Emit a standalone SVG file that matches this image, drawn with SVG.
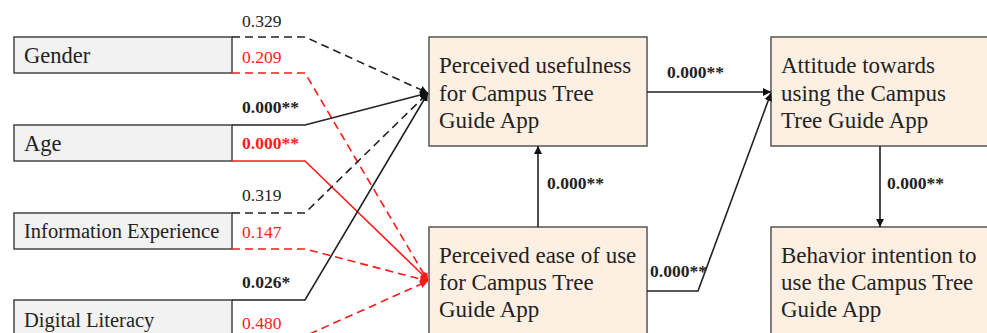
<svg xmlns="http://www.w3.org/2000/svg" width="987" height="333" viewBox="0 0 987 333">
<style>
.lb{fill:#f2f2f2;stroke:#444;stroke-width:1.5}
.mb{fill:#fdf0e3;stroke:#555;stroke-width:1.5}
.t{font-family:"Liberation Serif","Times New Roman",serif;fill:#222}
.big{font-size:23px}
.mid{font-size:22.5px}
.sm{font-size:20.5px}
.lab{font-family:"Liberation Serif","Times New Roman",serif;font-size:17.5px}
.b{font-weight:bold}
.k{fill:#222}
.r{fill:#ff1a1a}
.ck{fill:none;stroke:#222;stroke-width:1.6}
.cr{fill:none;stroke:#ff1a1a;stroke-width:1.6}
.d{stroke-dasharray:8 5}
</style>
<defs>
<marker id="ak" viewBox="0 0 10 10" refX="10" refY="5" markerWidth="8" markerHeight="8" markerUnits="userSpaceOnUse" orient="auto"><path d="M0,0 L10,5 L0,10 z" fill="#111"/></marker>
<marker id="ar" viewBox="0 0 10 10" refX="10" refY="5" markerWidth="8" markerHeight="8" markerUnits="userSpaceOnUse" orient="auto"><path d="M0,0 L10,5 L0,10 z" fill="#ff1a1a"/></marker>
</defs>
<g id="gender"><rect class="lb" x="14" y="37" width="218" height="36"/><text class="t mid" x="24" y="63">Gender</text></g>
<g id="age"><rect class="lb" x="14" y="125" width="218" height="36"/><text class="t mid" x="24" y="151">Age</text></g>
<g id="info"><rect class="lb" x="14" y="213" width="218" height="36"/><text class="t sm" x="24" y="238">Information Experience</text></g>
<g id="digital"><rect class="lb" x="14" y="300" width="218" height="36"/><text class="t sm" x="24" y="327">Digital Literacy</text></g>
<g id="pu"><rect class="mb" x="429" y="37" width="218" height="109"/><text class="t big" x="439" y="73">Perceived usefulness</text><text class="t big" x="439" y="100.5">for Campus Tree</text><text class="t big" x="439" y="128">Guide App</text></g>
<g id="pe"><rect class="mb" x="429" y="227" width="218" height="109"/><text class="t big" x="439" y="263">Perceived ease of use</text><text class="t big" x="439" y="290">for Campus Tree</text><text class="t big" x="439" y="317">Guide App</text></g>
<g id="att"><rect class="mb" x="771" y="37" width="222" height="109"/><text class="t big" x="781" y="73">Attitude towards</text><text class="t big" x="781" y="100.5">using the Campus</text><text class="t big" x="781" y="128">Tree Guide App</text></g>
<g id="bi"><rect class="mb" x="771" y="227" width="222" height="109"/><text class="t big" x="781" y="263">Behavior intention to</text><text class="t big" x="781" y="290">use the Campus Tree</text><text class="t big" x="781" y="317">Guide App</text></g>
<g id="connectors">
<polyline class="ck d" points="232,37 305,37 428,93" marker-end="url(#ak)"/>
<polyline class="cr d" points="232,73 305,73 428,281" marker-end="url(#ar)"/>
<polyline class="ck" points="232,125 305,125 428,93" marker-end="url(#ak)"/>
<polyline class="cr" points="232,161 305,161 428,280" marker-end="url(#ar)"/>
<polyline class="ck d" points="232,213 305,213 428,93" marker-end="url(#ak)"/>
<polyline class="cr d" points="232,249 305,249 428,281" marker-end="url(#ar)"/>
<polyline class="ck" points="232,300 305,300 428,93" marker-end="url(#ak)"/>
<polyline class="cr d" points="232,336 305,336 428,281" marker-end="url(#ar)"/>
<line class="ck" x1="647" y1="92" x2="771" y2="92" marker-end="url(#ak)"/>
<line class="ck" x1="538" y1="227" x2="538" y2="146" marker-end="url(#ak)"/>
<line class="ck" x1="880" y1="146" x2="880" y2="227" marker-end="url(#ak)"/>
<polyline class="ck" points="647,291 698,291 771,93" marker-end="url(#ak)"/>
</g>
<g id="labels">
<text class="lab k" x="242" y="27">0.329</text>
<text class="lab r" x="242" y="63">0.209</text>
<text class="lab k b" x="242" y="113">0.000**</text>
<text class="lab r b" x="242" y="149">0.000**</text>
<text class="lab k" x="242" y="201">0.319</text>
<text class="lab r" x="242" y="238">0.147</text>
<text class="lab k b" x="242" y="288">0.026*</text>
<text class="lab r" x="242" y="329">0.480</text>
<text class="lab k b" x="667" y="78">0.000**</text>
<text class="lab k b" x="547" y="189">0.000**</text>
<text class="lab k b" x="887" y="189">0.000**</text>
<text class="lab k b" x="650" y="277">0.000**</text>
</g>
</svg>
